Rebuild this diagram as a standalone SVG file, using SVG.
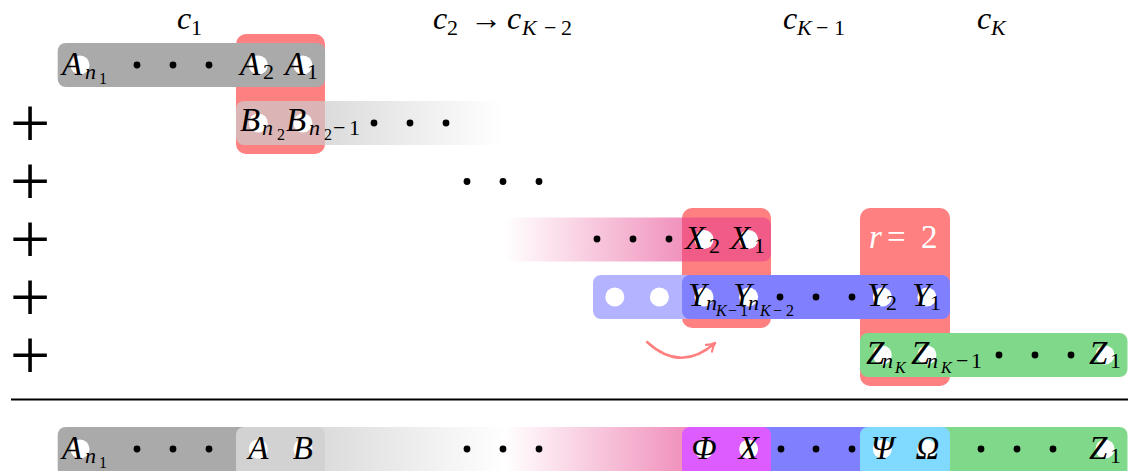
<svg xmlns="http://www.w3.org/2000/svg" width="1128" height="471" viewBox="0 0 1128 471" font-family="Liberation Serif, Times New Roman, serif">
<style>
text{font-family:'Liberation Serif','Times New Roman',serif;font-size:33px;fill:#000}
.h{font-size:32px}
.i{font-style:italic}
.s{font-size:22px}
.ss{font-size:16px}
.w{fill:#fff}
.dot{fill:#000}
.red{fill:#ff8080}
.plus{font-size:72px;text-anchor:middle}
.mid{text-anchor:middle}
</style>
<defs>
<linearGradient id="gB" gradientUnits="userSpaceOnUse" x1="325" y1="0" x2="503" y2="0">
<stop offset="0" stop-color="#cccccc" stop-opacity="0.7"/>
<stop offset="1" stop-color="#cccccc" stop-opacity="0"/>
</linearGradient>
<linearGradient id="gX" gradientUnits="userSpaceOnUse" x1="505" y1="0" x2="690" y2="0">
<stop offset="0" stop-color="#e6428c" stop-opacity="0"/>
<stop offset="1" stop-color="#e6428c" stop-opacity="0.6"/>
</linearGradient>
<linearGradient id="gBot" gradientUnits="userSpaceOnUse" x1="325" y1="0" x2="690" y2="0">
<stop offset="0" stop-color="#dcdcdc"/>
<stop offset="0.493" stop-color="#ffffff"/>
<stop offset="1" stop-color="#f08eba"/>
</linearGradient>
<marker id="arr" markerUnits="userSpaceOnUse" viewBox="0 0 12 12" refX="10" refY="6" markerWidth="12" markerHeight="12" orient="auto">
<path d="M2,1.5 Q6,5 10.5,6 Q6,7 2,10.5" fill="none" stroke="#ff8080" stroke-width="2.2" stroke-linecap="round"/>
</marker>
</defs>

<g id="headers">
<text class="h"><tspan class="i" x="177" y="29">c</tspan><tspan class="s" x="191" y="35">1</tspan></text>
<text class="h"><tspan class="i" x="433" y="29">c</tspan><tspan class="s" x="447" y="35">2</tspan><tspan x="470" y="29">→</tspan><tspan class="i" x="507" y="29">c</tspan><tspan class="i s" x="522" y="35">K</tspan><tspan class="s" x="544" y="35">−</tspan><tspan class="s" x="561" y="35">2</tspan></text>
<text class="h"><tspan class="i" x="783" y="29">c</tspan><tspan class="i s" x="797" y="35">K</tspan><tspan class="s" x="816" y="35">−</tspan><tspan class="s" x="834" y="35">1</tspan></text>
<text class="h"><tspan class="i" x="977" y="29">c</tspan><tspan class="i s" x="991" y="35">K</tspan></text>
</g>

<g id="plus-signs">
<text class="plus" x="30" y="147">+</text>
<text class="plus" x="30" y="205">+</text>
<text class="plus" x="30" y="263">+</text>
<text class="plus" x="30" y="321">+</text>
<text class="plus" x="30" y="379">+</text>
</g>

<g id="red-box-1"><rect class="red" x="236" y="34" width="89" height="120" rx="10"/></g>
<g id="red-box-2"><rect class="red" x="682" y="208" width="89" height="120" rx="10"/></g>
<g id="red-box-3"><rect class="red" x="860" y="208" width="90" height="178" rx="10"/>
<text class="w"><tspan class="i" x="869" y="248">r</tspan><tspan x="887" y="248">=</tspan><tspan x="921" y="248">2</tspan></text>
</g>

<g id="row-A">
<rect x="57.7" y="43" width="267.4" height="44" rx="8" fill="#aaaaaa"/>
<circle class="w" cx="80" cy="65" r="9.5"/><circle class="w" cx="258.3" cy="65" r="9.5"/><circle class="w" cx="302.9" cy="65" r="9.5"/>
<circle class="dot" cx="137" cy="65" r="3.4"/><circle class="dot" cx="173" cy="65" r="3.4"/><circle class="dot" cx="209" cy="65" r="3.4"/>
<text><tspan class="i" x="62" y="75">A</tspan><tspan class="i s" x="85" y="79">n</tspan><tspan class="ss" x="99" y="84">1</tspan></text>
<text><tspan class="i" x="240" y="75">A</tspan><tspan class="s" x="263" y="79">2</tspan></text>
<text><tspan class="i" x="285" y="75">A</tspan><tspan class="s" x="307" y="79">1</tspan></text>
</g>

<g id="row-B">
<rect x="236" y="101" width="267" height="44" rx="8" fill="url(#gB)"/>
<circle class="w" cx="258.3" cy="123" r="9.5"/><circle class="w" cx="302.9" cy="123" r="9.5"/>
<circle class="dot" cx="374" cy="123" r="3.4"/><circle class="dot" cx="410" cy="123" r="3.4"/><circle class="dot" cx="446" cy="123" r="3.4"/>
<text><tspan class="i" x="240" y="131">B</tspan><tspan class="i s" x="262" y="135">n</tspan><tspan class="ss" x="277" y="140">2</tspan></text>
<text><tspan class="i" x="286" y="131">B</tspan><tspan class="i s" x="309" y="135">n</tspan><tspan class="ss" x="324" y="140">2</tspan><tspan class="s" x="333" y="135">−</tspan><tspan class="s" x="349" y="135">1</tspan></text>
</g>

<g id="row-dots">
<circle class="dot" cx="467" cy="181.5" r="3.4"/><circle class="dot" cx="503" cy="181.5" r="3.4"/><circle class="dot" cx="539" cy="181.5" r="3.4"/>
</g>

<g id="row-X">
<rect x="505" y="217.5" width="266" height="44" rx="8" fill="url(#gX)"/>
<circle class="w" cx="704" cy="239.5" r="9.5"/><circle class="w" cx="748.6" cy="239.5" r="9.5"/>
<circle class="dot" cx="597" cy="239" r="3.4"/><circle class="dot" cx="633" cy="239" r="3.4"/><circle class="dot" cx="669" cy="239" r="3.4"/>
<text><tspan class="i" x="685" y="249">X</tspan><tspan class="s" x="709" y="253">2</tspan></text>
<text><tspan class="i" x="730" y="249">X</tspan><tspan class="s" x="754" y="253">1</tspan></text>
</g>

<g id="row-Y">
<rect x="593" y="275" width="100" height="44" rx="8" fill="#b3b3ff"/>
<rect x="682" y="275" width="268" height="44" rx="8" fill="#8080ff"/>
<circle class="w" cx="614.8" cy="297" r="9.5"/><circle class="w" cx="659.4" cy="297" r="9.5"/>
<circle class="w" cx="704" cy="297" r="9.5"/><circle class="w" cx="748.6" cy="297" r="9.5"/>
<circle class="w" cx="882.3" cy="297" r="9.5"/><circle class="w" cx="926.9" cy="297" r="9.5"/>
<circle class="dot" cx="780" cy="297" r="3.4"/><circle class="dot" cx="816" cy="297" r="3.4"/><circle class="dot" cx="852" cy="297" r="3.4"/>
<text><tspan class="i" x="688" y="306">Y</tspan><tspan class="i s" x="706" y="310">n</tspan><tspan class="i ss" x="716" y="316">K</tspan><tspan class="ss" x="728" y="316">−</tspan><tspan class="ss" x="740" y="316">1</tspan></text>
<text><tspan class="i" x="733" y="306">Y</tspan><tspan class="i s" x="748" y="310">n</tspan><tspan class="i ss" x="760" y="316">K</tspan><tspan class="ss" x="773" y="316">−</tspan><tspan class="ss" x="786" y="316">2</tspan></text>
<text><tspan class="i" x="867" y="306">Y</tspan><tspan class="s" x="886" y="310">2</tspan></text>
<text><tspan class="i" x="912" y="306">Y</tspan><tspan class="s" x="930" y="310">1</tspan></text>
</g>

<g id="row-Z">
<rect x="860" y="333" width="267.5" height="44" rx="8" fill="#80d98a"/>
<circle class="w" cx="882.3" cy="355" r="9.5"/><circle class="w" cx="926.9" cy="355" r="9.5"/><circle class="w" cx="1105" cy="355" r="9.5"/>
<circle class="dot" cx="999" cy="355" r="3.4"/><circle class="dot" cx="1035" cy="355" r="3.4"/><circle class="dot" cx="1071" cy="355" r="3.4"/>
<text><tspan class="i" x="866" y="364">Z</tspan><tspan class="i s" x="882" y="368">n</tspan><tspan class="i ss" x="895" y="373">K</tspan></text>
<text><tspan class="i" x="911" y="364">Z</tspan><tspan class="i s" x="927" y="368">n</tspan><tspan class="i ss" x="941" y="373">K</tspan><tspan class="s" x="956" y="368">−</tspan><tspan class="s" x="971" y="368">1</tspan></text>
<text><tspan class="i" x="1089" y="364">Z</tspan><tspan class="s" x="1110" y="368">1</tspan></text>
</g>

<g id="separator">
<line x1="11" y1="399.5" x2="1128" y2="399.5" stroke="#000" stroke-width="2.2"/>
</g>

<g id="row-result">
<rect x="57.7" y="427" width="204" height="50" rx="8" fill="#aaaaaa"/>
<rect x="250" y="427" width="470" height="50" fill="url(#gBot)"/>
<rect x="700" y="427" width="200" height="50" fill="#8080ff"/>
<rect x="920" y="427" width="207.5" height="50" rx="8" fill="#80d98a"/>
<rect x="236" y="427" width="89" height="50" rx="8" fill="#d2d2d2"/>
<rect x="682" y="427" width="89" height="50" rx="8" fill="#dd5cff"/>
<rect x="860" y="427" width="90" height="50" rx="8" fill="#80d9ff"/>
<circle class="w" cx="80" cy="449" r="9.5"/><circle class="w" cx="258.3" cy="449" r="9.5"/><circle class="w" cx="302.9" cy="449" r="9.5"/>
<circle class="w" cx="704" cy="449" r="9.5"/><circle class="w" cx="748.6" cy="449" r="9.5"/>
<circle class="w" cx="882.3" cy="449" r="9.5"/><circle class="w" cx="926.9" cy="449" r="9.5"/><circle class="w" cx="1105" cy="449" r="9.5"/>
<circle class="dot" cx="137" cy="449" r="3.4"/><circle class="dot" cx="173" cy="449" r="3.4"/><circle class="dot" cx="209" cy="449" r="3.4"/>
<circle class="dot" cx="467" cy="449" r="3.4"/><circle class="dot" cx="503" cy="449" r="3.4"/><circle class="dot" cx="539" cy="449" r="3.4"/>
<circle class="dot" cx="781" cy="449" r="3.4"/><circle class="dot" cx="816" cy="449" r="3.4"/><circle class="dot" cx="852" cy="449" r="3.4"/>
<circle class="dot" cx="981" cy="449" r="3.4"/><circle class="dot" cx="1017" cy="449" r="3.4"/><circle class="dot" cx="1053" cy="449" r="3.4"/>
<text><tspan class="i" x="62" y="459">A</tspan><tspan class="i s" x="85" y="463">n</tspan><tspan class="ss" x="99" y="468">1</tspan></text>
<text class="i mid" x="258.3" y="459">A</text>
<text class="i mid" x="302.9" y="459">B</text>
<text class="i mid" x="704" y="459">Φ</text>
<text class="i mid" x="748.6" y="459">X</text>
<text class="i mid" x="882.3" y="459">Ψ</text>
<text class="i mid" x="927.5" y="459">Ω</text>
<text><tspan class="i" x="1089" y="459">Z</tspan><tspan class="s" x="1110" y="463">1</tspan></text>
</g>

<g id="connectors">
<path d="M647,342 Q681,373 715,343" fill="none" stroke="#ff8080" stroke-width="2.5" stroke-linecap="round" marker-end="url(#arr)"/>
</g>
</svg>
